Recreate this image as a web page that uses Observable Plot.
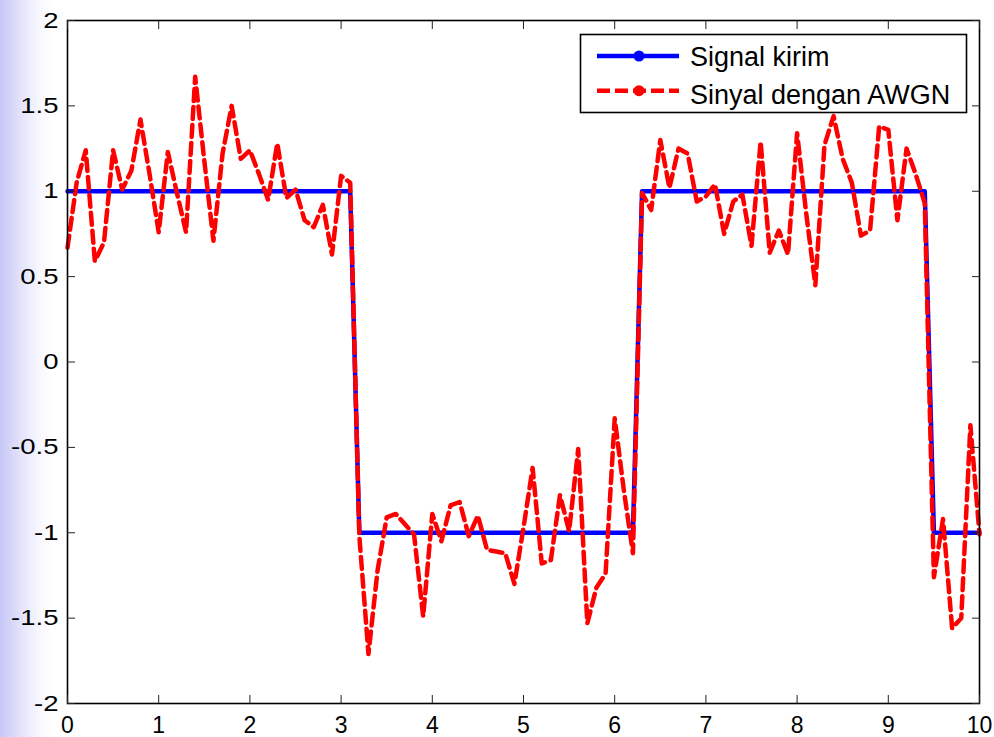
<!DOCTYPE html>
<html><head><meta charset="utf-8">
<script src="https://cdn.jsdelivr.net/npm/d3@7"></script>
<script src="https://cdn.jsdelivr.net/npm/@observablehq/plot@0.6"></script>
<style>
html,body{margin:0;padding:0;width:994px;height:737px;overflow:hidden;
background:linear-gradient(to right,#c6c6f6 0px,#e2e2fb 20px,#f6f6fe 38px,#ffffff 52px);}
#chart svg{display:block;}
</style></head><body><div id="chart"></div>
<script>
// time samples
const t = [0,0.1,0.2,0.3,0.4,0.5,0.6,0.7,0.8,0.9,
1,1.1,1.2,1.3,1.4,1.5,1.6,1.7,1.8,1.9,
2,2.1,2.2,2.3,2.4,2.5,2.6,2.7,2.8,2.9,
3,3.1,3.2,3.3,3.4,3.5,3.6,3.7,3.8,3.9,
4,4.1,4.2,4.3,4.4,4.5,4.6,4.7,4.8,4.9,
5,5.1,5.2,5.3,5.4,5.5,5.6,5.7,5.8,5.9,
6,6.1,6.2,6.3,6.4,6.5,6.6,6.7,6.8,6.9,
7,7.1,7.2,7.3,7.4,7.5,7.6,7.7,7.8,7.9,
8,8.1,8.2,8.3,8.4,8.5,8.6,8.7,8.8,8.9,
9,9.1,9.2,9.3,9.4,9.5,9.6,9.7,9.8,9.9,10];
// transmitted signal
const signalKirim = [1,1,1,1,1,1,1,1,1,1,
1,1,1,1,1,1,1,1,1,1,
1,1,1,1,1,1,1,1,1,1,
1,1,-1,-1,-1,-1,-1,-1,-1,-1,
-1,-1,-1,-1,-1,-1,-1,-1,-1,-1,
-1,-1,-1,-1,-1,-1,-1,-1,-1,-1,
-1,-1,-1,1,1,1,1,1,1,1,
1,1,1,1,1,1,1,1,1,1,
1,1,1,1,1,1,1,1,1,1,
1,1,1,1,1,-1,-1,-1,-1,-1,-1];
// signal with AWGN
const sinyalAWGN = [0.67,1.05,1.24,0.59,0.70,1.24,1.01,1.12,1.42,1.10,
0.76,1.23,0.99,0.76,1.67,1.18,0.71,1.22,1.50,1.19,
1.24,1.10,0.95,1.28,0.96,1.01,0.83,0.79,0.92,0.63,
1.09,1.05,-1.02,-1.71,-1.22,-0.91,-0.89,-0.95,-1.01,-1.49,
-0.89,-1.05,-0.84,-0.82,-1.02,-0.90,-1.10,-1.11,-1.12,-1.30,
-0.97,-0.62,-1.18,-1.16,-0.78,-0.99,-0.51,-1.53,-1.32,-1.24,
-0.33,-0.75,-1.12,0.99,0.89,1.30,1.02,1.25,1.22,0.94,
0.97,1.04,0.75,0.94,0.98,0.68,1.29,0.64,0.77,0.63,
1.34,0.87,0.45,1.27,1.44,1.19,1.05,0.74,0.77,1.38,
1.36,0.83,1.25,1.10,0.93,-1.26,-0.92,-1.56,-1.50,-0.37,-1.01];
const xTicks = [0,1,2,3,4,5,6,7,8,9,10];
const yTicks = [-2,-1.5,-1,-0.5,0,0.5,1,1.5,2];
const seriesNames = ["Signal kirim","Sinyal dengan AWGN"];
const seriesColors = ["#0000ff","#ff0000"];

const data = t.map((x,i)=>({t:x, kirim:signalKirim[i], awgn:sinyalAWGN[i]}));
const fmt = d => String(d);

const plot = Plot.plot({
  width: 994, height: 737,
  marginLeft: 67, marginRight: 15, marginTop: 20, marginBottom: 34,
  style: {background:"transparent", fontFamily:"'Liberation Sans', Arial, sans-serif", color:"black", overflow:"visible"},
  x: {domain:[0,10]},
  y: {domain:[-2,2]},
  marks: [
    Plot.lineY(data, {x:"t", y:"kirim", stroke:seriesColors[0], strokeWidth:4.5}),
    Plot.lineY(data, {x:"t", y:"awgn", stroke:seriesColors[1], strokeWidth:4.5, strokeDasharray:"12,6"}),
    Plot.frame({stroke:"black", strokeWidth:1.6}),
    Plot.axisX(xTicks, {anchor:"bottom", tickSize:-8, text:null, label:null, stroke:"#222"}),
    Plot.axisX(xTicks, {anchor:"top", tickSize:-8, text:null, label:null, stroke:"#222"}),
    Plot.axisY(yTicks, {anchor:"left", tickSize:-8, text:null, label:null, stroke:"#222"}),
    Plot.axisY(yTicks, {anchor:"right", tickSize:-8, text:null, label:null, stroke:"#222"}),
    Plot.axisX(xTicks, {anchor:"bottom", tickSize:0, tickPadding:13, fontSize:23, tickFormat:fmt, label:null, fill:"black"}),
    Plot.axisY(yTicks, {anchor:"left", tickSize:0, tickPadding:9, fontSize:22, tickFormat:fmt, label:null, fill:"black"})
  ]
});
document.getElementById("chart").appendChild(plot);

// widen y tick labels like the reference (glyph stretch, position untouched)
plot.querySelectorAll('g[aria-label="y-axis tick label"] text').forEach(el => {
  const w = el.getComputedTextLength();
  if (w > 0) {
    el.setAttribute("textLength", (w * 1.25).toFixed(1));
    el.setAttribute("lengthAdjust", "spacingAndGlyphs");
  }
});

// legend
const svg = d3.select(plot);
const lg = svg.append("g").attr("font-family","'Liberation Sans', Arial, sans-serif").attr("text-anchor","start");
lg.append("rect").attr("x",580.5).attr("y",34.5).attr("width",386).attr("height",78)
  .attr("fill","white").attr("stroke","black").attr("stroke-width",1.6);
const rows = [{y:56, base:66}, {y:90.7, base:104}];
seriesNames.forEach((name,i) => {
  lg.append("line").attr("x1",597).attr("x2",679).attr("y1",rows[i].y).attr("y2",rows[i].y)
    .attr("stroke",seriesColors[i]).attr("stroke-width",4.5)
    .attr("stroke-dasharray", i===1 ? "13,5" : null);
  lg.append("circle").attr("cx",639).attr("cy",rows[i].y).attr("r",5.5).attr("fill",seriesColors[i]);
  lg.append("text").attr("x",690).attr("y",rows[i].base).attr("font-size",27)
    .attr("text-anchor","start").attr("fill","black").text(name);
});
</script>
</body></html>
